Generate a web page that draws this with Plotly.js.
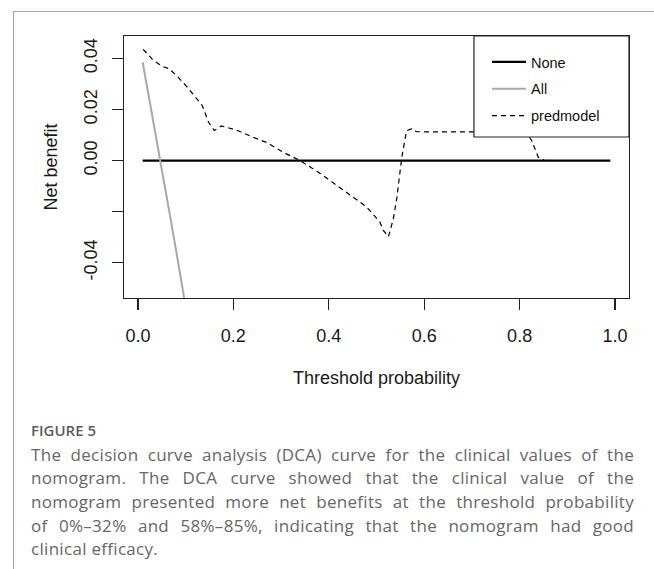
<!DOCTYPE html>
<html>
<head>
<meta charset="utf-8">
<script src="https://cdn.plot.ly/plotly-3.0.1.min.js"></script>
<style>
  html, body { margin: 0; padding: 0; background: #fff; }
  #wrap { position: relative; width: 654px; height: 569px; overflow: hidden; background: #fff; }
  #chart { position: absolute; left: 0; top: 0; width: 654px; height: 569px; }
  .frame-top { position: absolute; left: 13px; top: 11px; width: 641px; height: 1px; background: #a8a8a8; }
  .frame-left { position: absolute; left: 13px; top: 11px; width: 1px; height: 558px; background: #a8a8a8; }
  #cap-head { position: absolute; left: 31px; top: 420px; font-family: "Open Sans", sans-serif; font-weight: 600; font-size: 15px; line-height: 20px; color: #5c5c5c; }
  #cap-body { position: absolute; left: 31px; top: 442.5px; width: 603px; font-family: "Open Sans", sans-serif; font-weight: 400; font-size: 17px; line-height: 23.7px; color: #666; letter-spacing: 0.3px; }
  #cap-body .ln { text-align: justify; text-align-last: justify; white-space: nowrap; }
  #cap-body .ln.last { text-align-last: left; }
</style>
</head>
<body>
<div id="wrap">
  <div id="chart"></div>
  <div class="frame-top"></div>
  <div class="frame-left"></div>
  <div id="cap-head">FIGURE 5</div>
  <div id="cap-body">
    <div class="ln">The decision curve analysis (DCA) curve for the clinical values of the</div>
    <div class="ln">nomogram. The DCA curve showed that the clinical value of the</div>
    <div class="ln">nomogram presented more net benefits at the threshold probability</div>
    <div class="ln">of 0%–32% and 58%–85%, indicating that the nomogram had good</div>
    <div class="ln last">clinical efficacy.</div>
  </div>
</div>
<script>
// ---- data ----
const noneX = [0.01, 0.99];
const noneY = [0, 0];

const allX = [0.01, 0.02, 0.03, 0.04, 0.05, 0.06, 0.07, 0.08, 0.09, 0.10];
const allY = [0.0385, 0.0282, 0.0178, 0.0075, -0.0030, -0.0136, -0.0245, -0.0352, -0.0462, -0.0572];

const predX = [0.011, 0.032, 0.05, 0.065, 0.08, 0.10, 0.12, 0.135, 0.148, 0.16, 0.175, 0.207, 0.242, 0.27, 0.305, 0.34, 0.382, 0.423, 0.451, 0.479, 0.507, 0.514, 0.525, 0.535, 0.542, 0.553, 0.563, 0.574, 0.584, 0.70, 0.812, 0.825, 0.839, 0.852];
const predY = [0.0436, 0.0393, 0.0370, 0.0360, 0.0335, 0.0295, 0.0250, 0.0215, 0.0150, 0.0118, 0.0136, 0.0119, 0.0091, 0.0071, 0.0032, 0.0000, -0.0050, -0.0104, -0.0143, -0.0181, -0.0240, -0.0272, -0.0298, -0.0230, -0.0155, 0.0013, 0.0117, 0.0125, 0.0113, 0.0113, 0.0112, 0.0080, 0.0013, 0.0000];

const xTickVals = [0, 0.2, 0.4, 0.6, 0.8, 1.0];
const xTickText = ["0.0", "0.2", "0.4", "0.6", "0.8", "1.0"];
const yTickVals = [-0.04, -0.02, 0.00, 0.02, 0.04];
const yTickText = ["-0.04", "", "0.00", "0.02", "0.04"];

const seriesNames = ["None", "All", "predmodel"];

// ---- chart ----
const fontFam = "Liberation Sans, Arial, Helvetica, sans-serif";
const traces = [
  { x: noneX, y: noneY, name: seriesNames[0], mode: "lines", legendgroup: "g1",
    line: { color: "#000000", width: 2.4 } },
  { x: allX, y: allY, name: seriesNames[1], mode: "lines", legendgroup: "g2",
    line: { color: "#a9a9a9", width: 2 } },
  { x: predX, y: predY, name: seriesNames[2], mode: "lines", legendgroup: "g3",
    line: { color: "#000000", width: 1.2, dash: "5px,4px" } }
];

const layout = {
  width: 654, height: 569,
  margin: { l: 124, r: 25, t: 36, b: 271, pad: 0 },
  paper_bgcolor: "rgba(0,0,0,0)", plot_bgcolor: "#ffffff",
  font: { family: fontFam, color: "#1a1a1a" },
  showlegend: true,
  legend: {
    x: 0.7188, y: 0.962, xanchor: "left", yanchor: "top",
    bgcolor: "rgba(0,0,0,0)", borderwidth: 0,
    font: { family: fontFam, size: 14.5, color: "#111" },
    tracegroupgap: 5, itemwidth: 34, traceorder: "grouped"
  },
  xaxis: {
    range: [-0.0292, 1.0292], tickvals: xTickVals, ticktext: xTickText,
    ticks: "outside", ticklen: 11, tickwidth: 1.2, tickcolor: "#222",
    showline: true, mirror: true, linecolor: "#222", linewidth: 1.2,
    showgrid: false, zeroline: false, automargin: false,
    tickfont: { family: fontFam, size: 18, color: "#1a1a1a" },
    ticklabelstandoff: 10,
    title: { text: "Threshold probability", font: { family: fontFam, size: 18, color: "#1a1a1a" }, standoff: 26 }
  },
  yaxis: {
    range: [-0.0538, 0.0488], tickvals: yTickVals, ticktext: yTickText, tickangle: -90,
    ticks: "outside", ticklen: 11, tickwidth: 1.2, tickcolor: "#222",
    showline: true, mirror: true, linecolor: "#222", linewidth: 1.2,
    showgrid: false, zeroline: false, automargin: false,
    tickfont: { family: fontFam, size: 18, color: "#1a1a1a" },
    ticklabelstandoff: 8,
    title: { text: "Net benefit", font: { family: fontFam, size: 18, color: "#1a1a1a" }, standoff: 18 }
  },
  shapes: [
    { type: "rect", xref: "paper", yref: "paper", x0: 0.693, x1: 1.0, y0: 0.6145, y1: 1.0,
      fillcolor: "#ffffff", line: { color: "#222", width: 1.2 }, layer: "above" }
  ]
};

Plotly.newPlot("chart", traces, layout, { staticPlot: true, displayModeBar: false });
</script>
</body>
</html>
